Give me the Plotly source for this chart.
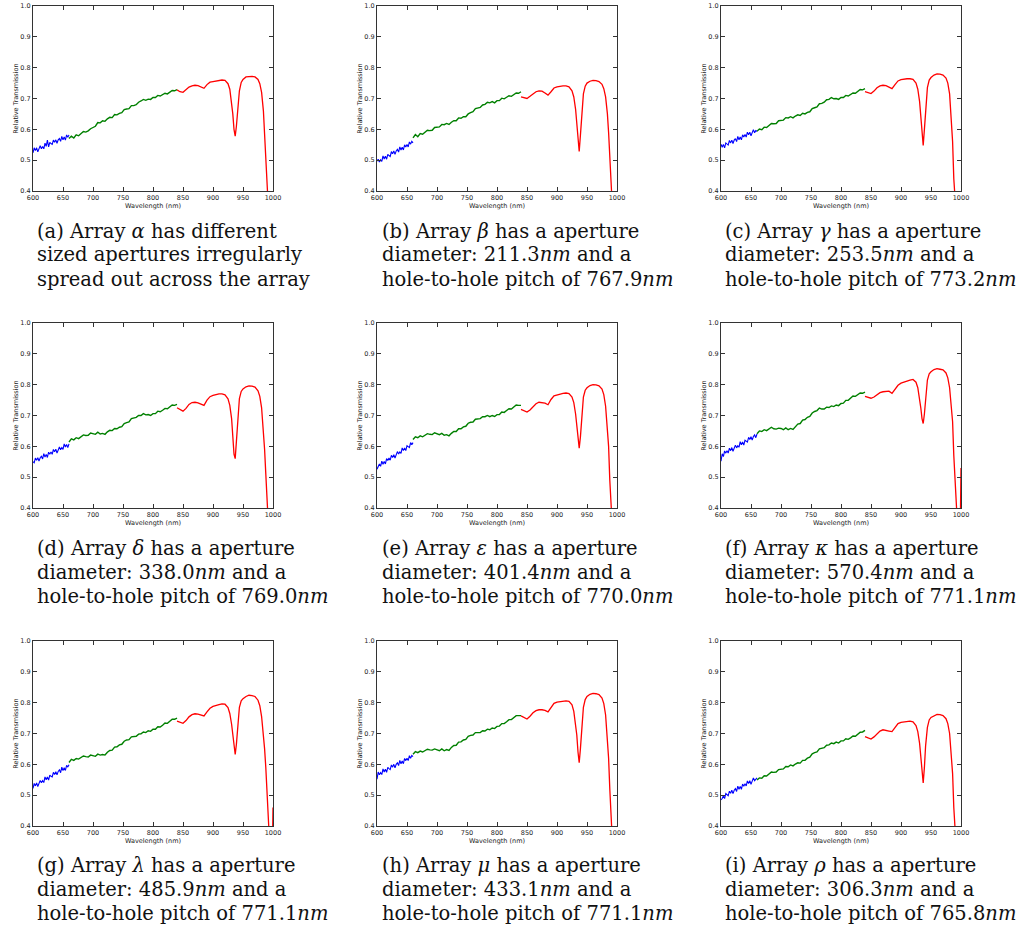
import plotly.graph_objects as go

# ---------------- data ----------------
blue_x = [600, 602, 604, 606, 608, 610, 612, 614, 616, 618, 620, 622, 624, 626, 628, 630,
          632, 634, 636, 638, 640, 642, 644, 646, 648, 650, 652, 654, 656, 658, 660]
green_x = [660, 664, 668, 672, 676, 680, 684, 688, 692, 696, 700, 704, 708, 712, 716, 720,
           724, 728, 732, 736, 740, 744, 748, 752, 756, 760, 764, 768, 772, 776, 780, 784,
           788, 792, 796, 800, 804, 808, 812, 816, 820, 824, 828, 832, 836, 840]
red_x = [840, 845, 850, 855, 860, 865, 870, 875, 880, 885, 890, 895, 900, 905, 910, 915,
         920, 925, 928, 931, 933, 935, 937, 939, 941, 944, 947, 950, 955, 960, 965, 970,
         975, 978, 981, 984, 986, 988, 990, 993, 996, 998, 1000]

blue_a = [0.524, 0.540, 0.531, 0.540, 0.527, 0.541, 0.547, 0.537, 0.544, 0.537, 0.555, 0.545, 0.565, 0.543, 0.558, 0.554,
          0.551, 0.565, 0.558, 0.566, 0.555, 0.566, 0.570, 0.561, 0.577, 0.566, 0.575, 0.565, 0.582, 0.574, 0.582]
green_a = [0.570, 0.578, 0.572, 0.582, 0.579, 0.587, 0.593, 0.591, 0.595, 0.602, 0.605, 0.610, 0.622, 0.621, 0.628, 0.626,
           0.634, 0.639, 0.638, 0.648, 0.647, 0.652, 0.654, 0.664, 0.666, 0.667, 0.677, 0.677, 0.680, 0.688, 0.692, 0.697,
           0.694, 0.698, 0.697, 0.703, 0.703, 0.710, 0.708, 0.713, 0.717, 0.715, 0.722, 0.726, 0.725, 0.729]
red_a = [0.728, 0.722, 0.720, 0.728, 0.737, 0.741, 0.743, 0.742, 0.737, 0.733, 0.745, 0.753, 0.755, 0.757, 0.759, 0.760,
         0.759, 0.748, 0.730, 0.690, 0.650, 0.600, 0.578, 0.610, 0.670, 0.725, 0.752, 0.762, 0.770, 0.772, 0.772, 0.770,
         0.762, 0.748, 0.720, 0.660, 0.580, 0.470, 0.300, 0.200, 0.200, 0.200, 0.200]

blue_b = [0.497, 0.503, 0.494, 0.501, 0.496, 0.514, 0.504, 0.513, 0.503, 0.519, 0.515, 0.512, 0.528, 0.521, 0.530, 0.519,
          0.530, 0.535, 0.526, 0.543, 0.533, 0.542, 0.533, 0.550, 0.543, 0.551, 0.543, 0.559, 0.552, 0.561, 0.556]
green_b = [0.572, 0.583, 0.576, 0.586, 0.584, 0.591, 0.597, 0.596, 0.597, 0.606, 0.607, 0.608, 0.616, 0.615, 0.619, 0.616,
           0.623, 0.628, 0.628, 0.637, 0.636, 0.641, 0.641, 0.650, 0.654, 0.657, 0.667, 0.668, 0.671, 0.679, 0.681, 0.688,
           0.686, 0.690, 0.686, 0.693, 0.693, 0.701, 0.699, 0.704, 0.709, 0.707, 0.714, 0.718, 0.717, 0.722]
red_b = [0.705, 0.702, 0.700, 0.707, 0.716, 0.722, 0.725, 0.724, 0.718, 0.711, 0.722, 0.734, 0.738, 0.740, 0.741, 0.741,
         0.738, 0.725, 0.705, 0.665, 0.620, 0.560, 0.528, 0.580, 0.650, 0.715, 0.740, 0.750, 0.756, 0.759, 0.758, 0.755,
         0.746, 0.732, 0.705, 0.650, 0.590, 0.480, 0.300, 0.200, 0.200, 0.200, 0.200]

blue_c = [0.552, 0.542, 0.551, 0.540, 0.556, 0.552, 0.549, 0.564, 0.556, 0.565, 0.554, 0.565, 0.570, 0.560, 0.577, 0.566,
          0.575, 0.566, 0.582, 0.575, 0.583, 0.575, 0.591, 0.582, 0.591, 0.579, 0.593, 0.599, 0.589, 0.596, 0.594]
green_c = [0.594, 0.601, 0.599, 0.607, 0.606, 0.614, 0.619, 0.618, 0.619, 0.628, 0.629, 0.630, 0.638, 0.637, 0.641, 0.637,
           0.643, 0.647, 0.645, 0.652, 0.650, 0.655, 0.657, 0.667, 0.670, 0.673, 0.683, 0.684, 0.688, 0.696, 0.697, 0.703,
           0.699, 0.700, 0.697, 0.703, 0.703, 0.710, 0.708, 0.713, 0.718, 0.717, 0.724, 0.729, 0.728, 0.732]
red_c = [0.722, 0.720, 0.716, 0.724, 0.735, 0.741, 0.743, 0.742, 0.737, 0.732, 0.745, 0.757, 0.761, 0.763, 0.764, 0.764,
         0.762, 0.750, 0.730, 0.690, 0.650, 0.590, 0.548, 0.600, 0.670, 0.735, 0.760, 0.768, 0.776, 0.780, 0.779, 0.776,
         0.766, 0.750, 0.715, 0.640, 0.560, 0.440, 0.300, 0.200, 0.200, 0.200, 0.200]

blue_d = [0.550, 0.547, 0.562, 0.555, 0.563, 0.552, 0.563, 0.568, 0.559, 0.576, 0.565, 0.574, 0.564, 0.581, 0.574, 0.582,
          0.574, 0.590, 0.582, 0.591, 0.578, 0.592, 0.598, 0.589, 0.596, 0.590, 0.608, 0.598, 0.606, 0.596, 0.608]
green_d = [0.614, 0.624, 0.621, 0.628, 0.625, 0.632, 0.637, 0.635, 0.636, 0.643, 0.642, 0.639, 0.646, 0.640, 0.642, 0.639,
           0.647, 0.652, 0.651, 0.658, 0.657, 0.662, 0.664, 0.674, 0.677, 0.679, 0.690, 0.691, 0.694, 0.700, 0.700, 0.706,
           0.702, 0.703, 0.700, 0.706, 0.706, 0.714, 0.712, 0.717, 0.723, 0.722, 0.729, 0.734, 0.733, 0.736]
red_d = [0.725, 0.720, 0.714, 0.723, 0.736, 0.742, 0.743, 0.741, 0.737, 0.733, 0.750, 0.761, 0.765, 0.768, 0.770, 0.770,
         0.767, 0.754, 0.733, 0.690, 0.640, 0.575, 0.560, 0.620, 0.690, 0.755, 0.778, 0.786, 0.793, 0.796, 0.795, 0.792,
         0.780, 0.762, 0.725, 0.650, 0.590, 0.510, 0.300, 0.200, 0.200, 0.200, 0.200]

blue_e = [0.526, 0.538, 0.543, 0.535, 0.552, 0.542, 0.551, 0.543, 0.560, 0.554, 0.562, 0.555, 0.571, 0.564, 0.573, 0.562,
          0.577, 0.583, 0.575, 0.582, 0.577, 0.595, 0.586, 0.595, 0.586, 0.602, 0.599, 0.596, 0.612, 0.605, 0.612]
green_e = [0.622, 0.631, 0.628, 0.634, 0.631, 0.637, 0.641, 0.639, 0.638, 0.644, 0.642, 0.638, 0.642, 0.636, 0.638, 0.634,
           0.642, 0.648, 0.648, 0.657, 0.657, 0.663, 0.665, 0.675, 0.678, 0.679, 0.688, 0.688, 0.690, 0.696, 0.696, 0.700,
           0.696, 0.700, 0.697, 0.703, 0.703, 0.711, 0.710, 0.716, 0.722, 0.721, 0.729, 0.734, 0.733, 0.733]
red_e = [0.720, 0.716, 0.711, 0.718, 0.729, 0.738, 0.743, 0.742, 0.740, 0.735, 0.752, 0.764, 0.767, 0.769, 0.772, 0.773,
         0.771, 0.760, 0.742, 0.705, 0.668, 0.618, 0.594, 0.630, 0.690, 0.760, 0.782, 0.790, 0.797, 0.800, 0.799, 0.796,
         0.786, 0.768, 0.730, 0.660, 0.600, 0.490, 0.300, 0.200, 0.200, 0.200, 0.200]

blue_f = [0.552, 0.576, 0.567, 0.585, 0.578, 0.586, 0.578, 0.594, 0.586, 0.596, 0.584, 0.598, 0.604, 0.595, 0.602, 0.597,
          0.615, 0.605, 0.614, 0.604, 0.620, 0.617, 0.614, 0.629, 0.622, 0.631, 0.620, 0.632, 0.637, 0.628, 0.640]
green_f = [0.641, 0.650, 0.648, 0.654, 0.651, 0.658, 0.662, 0.657, 0.656, 0.659, 0.658, 0.654, 0.660, 0.654, 0.658, 0.655,
           0.665, 0.672, 0.674, 0.685, 0.687, 0.694, 0.697, 0.708, 0.713, 0.716, 0.724, 0.721, 0.721, 0.727, 0.726, 0.731,
           0.729, 0.734, 0.732, 0.739, 0.740, 0.749, 0.749, 0.756, 0.763, 0.762, 0.769, 0.773, 0.772, 0.776]
red_f = [0.762, 0.760, 0.756, 0.760, 0.768, 0.774, 0.777, 0.778, 0.779, 0.772, 0.785, 0.798, 0.805, 0.809, 0.812, 0.815,
         0.817, 0.808, 0.790, 0.755, 0.725, 0.690, 0.674, 0.705, 0.760, 0.815, 0.835, 0.842, 0.849, 0.852, 0.850, 0.848,
         0.838, 0.822, 0.790, 0.735, 0.680, 0.570, 0.420, 0.300, 0.200, 0.200, 0.530]

blue_g = [0.522, 0.538, 0.530, 0.540, 0.528, 0.542, 0.548, 0.540, 0.547, 0.541, 0.559, 0.550, 0.559, 0.549, 0.565, 0.561,
          0.559, 0.574, 0.567, 0.576, 0.566, 0.577, 0.582, 0.573, 0.591, 0.580, 0.589, 0.580, 0.597, 0.591, 0.599]
green_g = [0.606, 0.616, 0.613, 0.619, 0.617, 0.623, 0.627, 0.625, 0.624, 0.630, 0.627, 0.626, 0.633, 0.630, 0.632, 0.630,
           0.639, 0.645, 0.646, 0.656, 0.657, 0.663, 0.665, 0.675, 0.679, 0.680, 0.689, 0.689, 0.691, 0.698, 0.699, 0.705,
           0.703, 0.709, 0.707, 0.714, 0.714, 0.722, 0.721, 0.727, 0.734, 0.733, 0.741, 0.746, 0.746, 0.750]
red_g = [0.740, 0.737, 0.733, 0.742, 0.754, 0.761, 0.764, 0.763, 0.760, 0.757, 0.770, 0.782, 0.788, 0.792, 0.794, 0.796,
         0.795, 0.784, 0.765, 0.730, 0.695, 0.650, 0.632, 0.665, 0.725, 0.785, 0.806, 0.813, 0.820, 0.824, 0.823, 0.820,
         0.808, 0.790, 0.755, 0.700, 0.650, 0.590, 0.420, 0.300, 0.200, 0.200, 0.460]

blue_h = [0.552, 0.575, 0.566, 0.573, 0.567, 0.585, 0.575, 0.584, 0.574, 0.590, 0.586, 0.583, 0.598, 0.591, 0.600, 0.589,
          0.600, 0.605, 0.596, 0.613, 0.602, 0.611, 0.602, 0.619, 0.612, 0.620, 0.612, 0.628, 0.620, 0.629, 0.625]
green_h = [0.633, 0.641, 0.638, 0.643, 0.640, 0.646, 0.649, 0.647, 0.646, 0.650, 0.647, 0.644, 0.650, 0.644, 0.648, 0.645,
           0.655, 0.661, 0.662, 0.672, 0.673, 0.679, 0.681, 0.691, 0.694, 0.695, 0.703, 0.702, 0.703, 0.709, 0.708, 0.714,
           0.712, 0.718, 0.716, 0.723, 0.724, 0.732, 0.732, 0.738, 0.745, 0.745, 0.753, 0.758, 0.758, 0.758]
red_h = [0.757, 0.752, 0.747, 0.756, 0.767, 0.774, 0.777, 0.777, 0.775, 0.770, 0.785, 0.798, 0.802, 0.804, 0.805, 0.806,
         0.804, 0.793, 0.772, 0.735, 0.695, 0.640, 0.605, 0.650, 0.715, 0.785, 0.810, 0.820, 0.827, 0.830, 0.829, 0.826,
         0.815, 0.797, 0.760, 0.690, 0.620, 0.520, 0.300, 0.200, 0.200, 0.200, 0.200]

blue_i = [0.485, 0.489, 0.498, 0.489, 0.505, 0.501, 0.498, 0.513, 0.506, 0.516, 0.505, 0.516, 0.521, 0.512, 0.529, 0.519,
          0.528, 0.519, 0.536, 0.529, 0.537, 0.530, 0.546, 0.538, 0.547, 0.535, 0.549, 0.556, 0.547, 0.554, 0.556]
green_i = [0.549, 0.556, 0.555, 0.563, 0.562, 0.570, 0.575, 0.574, 0.575, 0.583, 0.584, 0.585, 0.593, 0.592, 0.598, 0.595,
           0.601, 0.605, 0.604, 0.613, 0.613, 0.620, 0.623, 0.634, 0.638, 0.640, 0.650, 0.651, 0.654, 0.662, 0.663, 0.669,
           0.667, 0.672, 0.669, 0.676, 0.676, 0.683, 0.681, 0.686, 0.692, 0.691, 0.699, 0.704, 0.705, 0.710]
red_i = [0.690, 0.686, 0.682, 0.689, 0.700, 0.708, 0.712, 0.711, 0.708, 0.706, 0.720, 0.732, 0.736, 0.738, 0.740, 0.740,
         0.738, 0.726, 0.706, 0.668, 0.625, 0.570, 0.540, 0.590, 0.660, 0.720, 0.744, 0.752, 0.758, 0.762, 0.761, 0.758,
         0.748, 0.732, 0.700, 0.630, 0.570, 0.460, 0.300, 0.200, 0.200, 0.200, 0.200]

x_ticks = [600, 650, 700, 750, 800, 850, 900, 950, 1000]
y_ticks = [0.4, 0.5, 0.6, 0.7, 0.8, 0.9, 1.0]

captions = [
    ["(a) Array <i>α</i> has different", "sized apertures irregularly", "spread out across the array"],
    ["(b) Array <i>β</i> has a aperture", "diameter: 211.3<i>nm</i> and a", "hole-to-hole pitch of 767.9<i>nm</i>"],
    ["(c) Array <i>γ</i> has a aperture", "diameter: 253.5<i>nm</i> and a", "hole-to-hole pitch of 773.2<i>nm</i>"],
    ["(d) Array <i>δ</i> has a aperture", "diameter: 338.0<i>nm</i> and a", "hole-to-hole pitch of 769.0<i>nm</i>"],
    ["(e) Array <i>ε</i> has a aperture", "diameter: 401.4<i>nm</i> and a", "hole-to-hole pitch of 770.0<i>nm</i>"],
    ["(f) Array <i>κ</i> has a aperture", "diameter: 570.4<i>nm</i> and a", "hole-to-hole pitch of 771.1<i>nm</i>"],
    ["(g) Array <i>λ</i> has a aperture", "diameter: 485.9<i>nm</i> and a", "hole-to-hole pitch of 771.1<i>nm</i>"],
    ["(h) Array <i>μ</i> has a aperture", "diameter: 433.1<i>nm</i> and a", "hole-to-hole pitch of 771.1<i>nm</i>"],
    ["(i) Array <i>ρ</i> has a aperture", "diameter: 306.3<i>nm</i> and a", "hole-to-hole pitch of 765.8<i>nm</i>"],
]

panels = [
    (blue_a, green_a, red_a), (blue_b, green_b, red_b), (blue_c, green_c, red_c),
    (blue_d, green_d, red_d), (blue_e, green_e, red_e), (blue_f, green_f, red_f),
    (blue_g, green_g, red_g), (blue_h, green_h, red_h), (blue_i, green_i, red_i),
]

# ---------------- layout ----------------
W, H = 1019, 930
col_left = [33, 377, 721]
row_top = [6, 323, 641]
plot_w, plot_h = 240, 185
cap_left = [35, 380, 723]
cap_rows = [[231, 255, 279], [548, 572, 596], [865, 889, 913]]

fig = go.Figure()
layout_axes = {}
annotations = []
tick_font = dict(family="DejaVu Sans", size=6.5, color="#222222")
title_font = dict(family="DejaVu Sans", size=6.5, color="#222222")

for k, (bl, gr, rd) in enumerate(panels):
    r, c = divmod(k, 3)
    n = "" if k == 0 else str(k + 1)
    xa, ya = "x" + n, "y" + n
    for xs, ys, col, w in ((blue_x, bl, "#0000ff", 1.1), (green_x, gr, "#008000", 1.4),
                           (red_x, rd, "#ff0000", 1.3)):
        fig.add_trace(go.Scatter(x=xs, y=ys, mode="lines", xaxis=xa, yaxis=ya,
                                 line=dict(color=col, width=w), showlegend=False,
                                 hoverinfo="skip"))
    x0 = col_left[c] / W
    x1 = (col_left[c] + plot_w) / W
    y1 = 1 - row_top[r] / H
    y0 = 1 - (row_top[r] + plot_h) / H
    common = dict(showline=True, mirror="ticks", linecolor="#333333", linewidth=1,
                  ticks="inside", ticklen=4, tickcolor="#333333", tickwidth=1,
                  showgrid=False, zeroline=False, tickfont=tick_font, automargin=False)
    layout_axes["xaxis" + n] = dict(common, domain=[x0, x1], range=[600, 1000],
                                    tickvals=x_ticks, ticktext=[str(v) for v in x_ticks],
                                    anchor=ya,
                                    title=dict(text="Wavelength (nm)", standoff=0, font=title_font))
    layout_axes["yaxis" + n] = dict(common, domain=[y0, y1], range=[0.4, 1.0],
                                    tickvals=y_ticks, ticktext=["%.1f" % v for v in y_ticks],
                                    anchor=xa,
                                    title=dict(text="Relative Transmission", standoff=0, font=title_font))
    for line, ypx in zip(captions[k], cap_rows[r]):
        annotations.append(dict(text=line, x=cap_left[c] / W, y=1 - ypx / H,
                                xref="paper", yref="paper", xanchor="left", yanchor="middle",
                                showarrow=False, align="left",
                                font=dict(family="DejaVu Serif", size=19.5, color="#111111")))

fig.update_layout(width=W, height=H, margin=dict(l=0, r=0, t=0, b=0),
                  paper_bgcolor="white", plot_bgcolor="white",
                  annotations=annotations, **layout_axes)

fig.write_html("out.html", config={"displayModeBar": False},
               post_script="document.body.style.margin='0px';document.body.style.overflow='hidden';")
